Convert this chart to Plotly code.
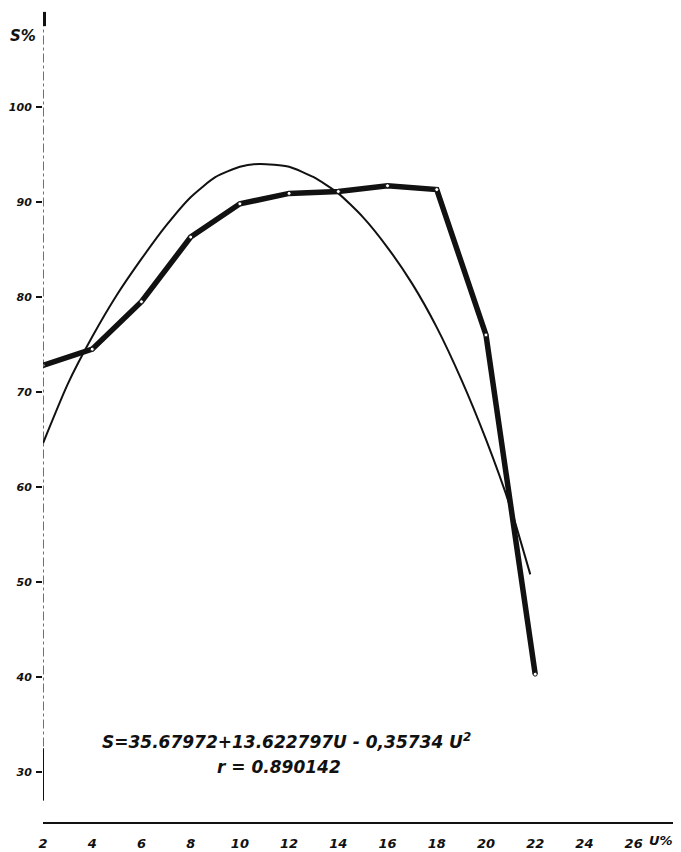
import plotly.graph_objects as go

# Measured yield S (%) against moisture U (%)
u_obs = [2, 4, 6, 8, 10, 12, 14, 16, 18, 20, 22]
s_obs = [72.8, 74.5, 79.5, 86.3, 89.8, 90.9, 91.1, 91.7, 91.3, 76.0, 40.3]

# Fitted quadratic regression curve, sampled along its length
u_fit = [2.0, 3.0, 4.0, 5.0, 6.0, 7.0, 8.0, 9.0, 10.0, 10.8, 12.0, 13.0, 14.0,
         15.0, 16.0, 17.0, 18.0, 19.0, 20.0, 21.0, 21.8]
s_fit = [64.6, 70.8, 75.8, 80.2, 84.0, 87.5, 90.5, 92.6, 93.7, 94.0, 93.7, 92.6, 90.9,
         88.4, 85.2, 81.4, 76.8, 71.3, 65.0, 57.8, 50.8]

x_ticks = [2, 4, 6, 8, 10, 12, 14, 16, 18, 20, 22, 24, 26]
y_ticks = [30, 40, 50, 60, 70, 80, 90, 100]

formula = "S=35.67972+13.622797U - 0,35734 U<sup>2</sup>"
corr = "r = 0.890142"

ink = "#111111"
hand = dict(family="DejaVu Sans", size=13, color=ink, weight="bold", style="italic")

fig = go.Figure()

fig.add_trace(go.Scatter(
    x=u_fit, y=s_fit, mode="lines",
    line=dict(color=ink, width=2, shape="spline", smoothing=0.6),
    hoverinfo="skip", showlegend=False,
))
fig.add_trace(go.Scatter(
    x=u_obs, y=s_obs, mode="lines+markers",
    line=dict(color=ink, width=5.5),
    marker=dict(size=4, color="white", line=dict(color=ink, width=1)),
    showlegend=False,
))

# vertical axis drawn as a broken line with a heavy arrow tip
fig.add_shape(type="line", xref="x", yref="y", x0=2, x1=2, y0=27.0, y1=108.5,
              line=dict(color=ink, width=1.2, dash="dashdot"))
fig.add_shape(type="line", xref="x", yref="y", x0=2, x1=2, y0=27.0, y1=32.5,
              line=dict(color=ink, width=2))
fig.add_shape(type="line", xref="x", yref="y", x0=2.04, x1=2.04, y0=108.5, y1=110.0,
              line=dict(color=ink, width=4))

fig.add_annotation(xref="paper", yref="paper", x=-0.056, y=0.981, text="S%",
                   showarrow=False, font=dict(hand, size=15), xanchor="left", yanchor="top")
fig.add_annotation(xref="x", yref="paper", x=27.1, y=-0.011, text="U%",
                   showarrow=False, font=hand, yanchor="top")
fig.add_annotation(xref="x", yref="y", x=11.9, y=33.3, text=formula,
                   showarrow=False, font=dict(hand, size=17))
fig.add_annotation(xref="x", yref="y", x=11.6, y=30.5, text=corr,
                   showarrow=False, font=dict(hand, size=17))

fig.update_layout(
    width=681, height=852,
    margin=dict(l=43, r=8, t=10, b=30),
    paper_bgcolor="white", plot_bgcolor="white",
    font=hand,
    xaxis=dict(
        range=[2, 27.6], tickvals=x_ticks, ticktext=[str(v) for v in x_ticks],
        showgrid=False, zeroline=False, showline=True, linecolor=ink, linewidth=2,
        ticks="", ticklabelstandoff=8, tickfont=hand, automargin=False,
    ),
    yaxis=dict(
        range=[24.74, 110.2], tickvals=y_ticks, ticktext=[str(v) for v in y_ticks],
        showgrid=False, zeroline=False, showline=False,
        ticks="outside", ticklen=6, tickcolor=ink, tickwidth=1.5,
        ticklabelstandoff=2, tickfont=dict(hand, size=11), automargin=False,
    ),
)

fig.write_html("out.html")
